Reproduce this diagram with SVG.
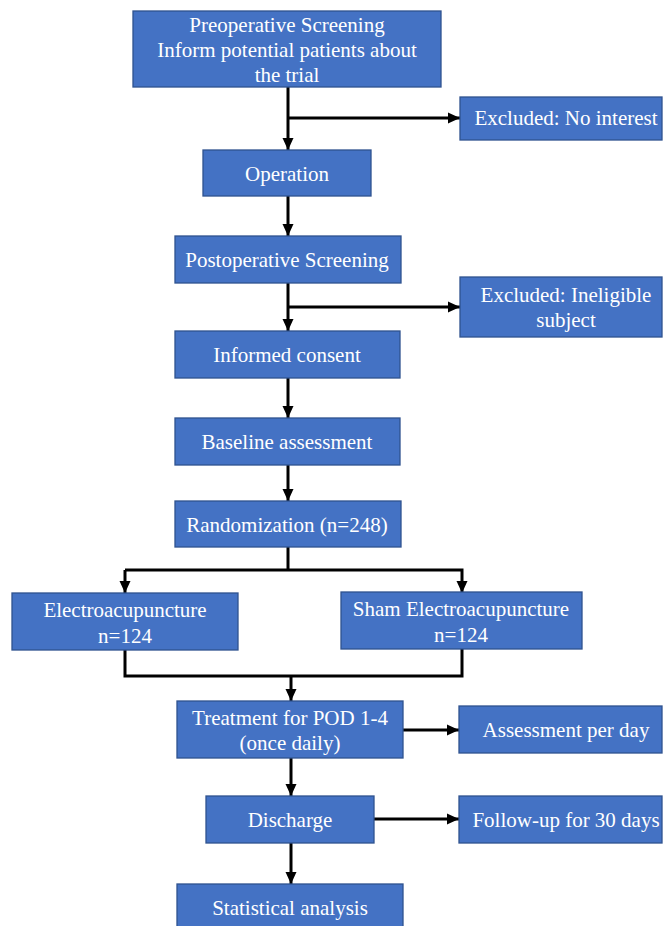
<svg xmlns="http://www.w3.org/2000/svg" width="663" height="926" viewBox="0 0 663 926">
<style>
.box{fill:#4472C4;stroke:#2F528F;stroke-width:1.3}
.t{font-family:"Liberation Serif","Times New Roman",serif;font-size:21px;fill:#fff;text-anchor:middle}
.c{fill:none;stroke:#000;stroke-width:3}
</style>
<defs>
<marker id="ah" markerWidth="13" markerHeight="13" refX="12" refY="6.5" orient="auto" markerUnits="userSpaceOnUse">
<path d="M0,1 L12,6.5 L0,12 Z" fill="#000"/>
</marker>
</defs>
<rect width="663" height="926" fill="#fff"/>
<g id="connectors">
<path class="c" d="M288,87 V150" marker-end="url(#ah)"/>
<path class="c" d="M288,118 H460" marker-end="url(#ah)"/>
<path class="c" d="M288,196 V236" marker-end="url(#ah)"/>
<path class="c" d="M288,283 V331" marker-end="url(#ah)"/>
<path class="c" d="M288,307 H460" marker-end="url(#ah)"/>
<path class="c" d="M288,378 V418" marker-end="url(#ah)"/>
<path class="c" d="M288,465 V501" marker-end="url(#ah)"/>
<path class="c" d="M288,547 V570"/>
<path class="c" d="M125,570 H462 V593" marker-end="url(#ah)"/>
<path class="c" d="M125,570 V593" marker-end="url(#ah)"/>
<path class="c" d="M125,650 V676 H462 V649"/>
<path class="c" d="M291,676 V701" marker-end="url(#ah)"/>
<path class="c" d="M403,730 H459" marker-end="url(#ah)"/>
<path class="c" d="M291,758 V796" marker-end="url(#ah)"/>
<path class="c" d="M374,819 H459" marker-end="url(#ah)"/>
<path class="c" d="M291,843 V884" marker-end="url(#ah)"/>
</g>
<g id="n1"><rect class="box" x="133" y="11" width="308" height="76"/>
<text class="t" x="287" y="32">Preoperative Screening</text>
<text class="t" x="287" y="57">Inform potential patients about</text>
<text class="t" x="287" y="82">the trial</text></g>
<g id="n2"><rect class="box" x="460" y="97" width="202" height="43"/><text class="t" x="566" y="125">Excluded: No interest</text></g>
<g id="n3"><rect class="box" x="203" y="150" width="168" height="46"/><text class="t" x="287" y="181">Operation</text></g>
<g id="n4"><rect class="box" x="175" y="236" width="226" height="47"/><text class="t" x="287" y="267">Postoperative Screening</text></g>
<g id="n5"><rect class="box" x="460" y="277" width="202" height="60"/>
<text class="t" x="566" y="302">Excluded: Ineligible</text><text class="t" x="566" y="327">subject</text></g>
<g id="n6"><rect class="box" x="175" y="331" width="225" height="47"/><text class="t" x="287" y="362">Informed consent</text></g>
<g id="n7"><rect class="box" x="175" y="418" width="225" height="47"/><text class="t" x="287" y="449">Baseline assessment</text></g>
<g id="n8"><rect class="box" x="175" y="501" width="226" height="46"/><text class="t" x="287" y="532">Randomization (n=248)</text></g>
<g id="n9"><rect class="box" x="12" y="593" width="226" height="57"/>
<text class="t" x="125" y="617">Electroacupuncture</text><text class="t" x="125" y="643">n=124</text></g>
<g id="n10"><rect class="box" x="341" y="592" width="241" height="57"/>
<text class="t" x="461" y="616">Sham Electroacupuncture</text><text class="t" x="461" y="642">n=124</text></g>
<g id="n11"><rect class="box" x="177" y="701" width="226" height="57"/>
<text class="t" x="290" y="725">Treatment for POD 1-4</text><text class="t" x="290" y="750">(once daily)</text></g>
<g id="n12"><rect class="box" x="459" y="706" width="203" height="47"/><text class="t" x="566" y="737">Assessment per day</text></g>
<g id="n13"><rect class="box" x="206" y="796" width="168" height="47"/><text class="t" x="290" y="827">Discharge</text></g>
<g id="n14"><rect class="box" x="459" y="796" width="203" height="47"/><text class="t" x="566" y="827">Follow-up for 30 days</text></g>
<g id="n15"><rect class="box" x="177" y="884" width="226" height="44"/><text class="t" x="290" y="915">Statistical analysis</text></g>
</svg>
